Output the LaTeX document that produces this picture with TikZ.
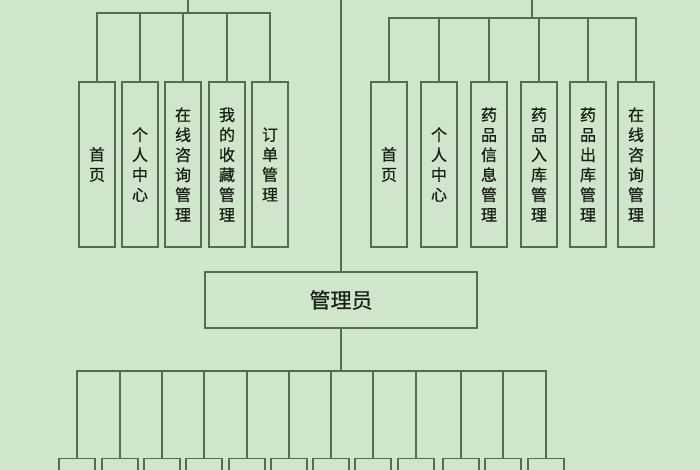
\documentclass[tikz,border=0pt]{standalone}
\usepackage{fontspec}
\setmainfont{Noto Sans CJK SC}[FakeBold=0.6]
\definecolor{bg}{RGB}{207,230,202}
\definecolor{lc}{RGB}{86,106,84}
\definecolor{tc}{RGB}{24,32,24}
\begin{document}
\begin{tikzpicture}[x=1pt,y=-1pt,
  ln/.style={draw=lc,line width=1.6pt},
  vbox/.style={draw=lc,line width=1.6pt,minimum width=36.4pt,minimum height=165.4pt,inner sep=0pt,align=center,text=tc,font=\fontsize{16}{20}\selectfont},
  sbox/.style={draw=lc,line width=1.6pt,minimum width=36.4pt,minimum height=50pt,inner sep=0pt},
  abox/.style={draw=lc,line width=1.6pt,minimum width=272.4pt,minimum height=56.4pt,inner sep=0pt,text=tc,font=\fontsize{21}{24}\selectfont}]
\fill[bg] (0,0) rectangle (700,470);
\useasboundingbox (0,0) rectangle (700,470);
\clip (0,0) rectangle (700,470);
% left group
\node[vbox] (l1) at (97,164.5) {首\\页};
\node[vbox] (l2) at (140,164.5) {个\\人\\中\\心};
\node[vbox] (l3) at (183,164.5) {在\\线\\咨\\询\\管\\理};
\node[vbox] (l4) at (227,164.5) {我\\的\\收\\藏\\管\\理};
\node[vbox] (l5) at (270,164.5) {订\\单\\管\\理};
\coordinate (ltop) at (188,0);
\coordinate (lbus) at (188,13);
\draw[ln] (ltop) -- (lbus);
\foreach \i in {1,...,5} {\draw[ln] (lbus) -| (l\i.north);}
% right group
\node[vbox] (r1) at (389,164.5) {首\\页};
\node[vbox] (r2) at (439,164.5) {个\\人\\中\\心};
\node[vbox] (r3) at (489,164.5) {药\\品\\信\\息\\管\\理};
\node[vbox] (r4) at (539,164.5) {药\\品\\入\\库\\管\\理};
\node[vbox] (r5) at (588,164.5) {药\\品\\出\\库\\管\\理};
\node[vbox] (r6) at (636,164.5) {在\\线\\咨\\询\\管\\理};
\coordinate (rtop) at (532,0);
\coordinate (rbus) at (532,18);
\draw[ln] (rtop) -- (rbus);
\foreach \i in {1,...,6} {\draw[ln] (rbus) -| (r\i.north);}
% admin
\node[abox] (admin) at (341,300) {管理员};
\coordinate (ctop) at (341,0);
\draw[ln] (ctop) -- (admin.north);
\coordinate (bbus) at (341,371);
\draw[ln] (admin.south) -- (bbus);
% bottom boxes
\foreach \x [count=\i] in {77,120,162,204,247,289,331,373,416,461,503,546} {
  \node[sbox,anchor=north] (b\i) at (\x,457.8) {};
  \draw[ln] (bbus) -| (b\i.north);
}
\end{tikzpicture}
\end{document}
